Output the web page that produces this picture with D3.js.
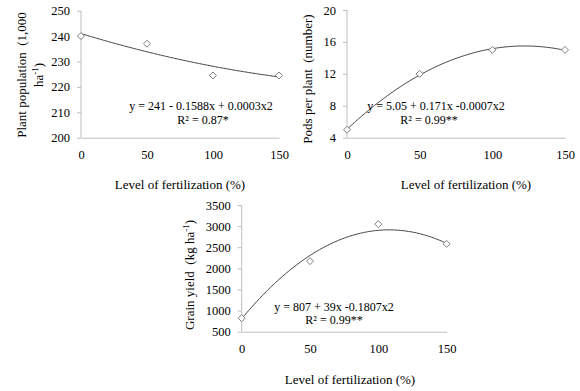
<!DOCTYPE html>
<html lang="en">
<head>
	<meta charset="utf-8">
	<title>Fertilization panels</title>
	<script src="https://d3js.org/d3.v7.min.js"></script>
	<style>
		body { margin: 0; background: #fff; }
		.axis path, .axis line { stroke: #bfbfbf; }
	</style>
</head>
<body>
<div id="chart"></div>
<script>
	// Data
	var levels = [0, 50, 100, 150];
	var xTicks = [0, 50, 100, 150];

	var populationValues = [240, 237, 224.5, 224.5];
	var populationTicks = [200, 210, 220, 230, 240, 250];
	var populationCoef = [241, -0.1588, 0.0003];

	var podsValues = [5, 12, 15, 15];
	var podsTicks = [4, 8, 12, 16, 20];
	var podsCoef = [5.05, 0.171, -0.0007];

	var yieldValues = [820, 2170, 3045, 2580];
	var yieldTicks = [500, 1000, 1500, 2000, 2500, 3000, 3500];
	var yieldCoef = [807, 39, -0.1807];

	var w = 580, h = 391;
	var serif = "'Liberation Serif'";

	var svg = d3.select("#chart")
		.append("svg")
		.attr("width", w)
		.attr("height", h);

	var panels = [
		{
			values: populationValues, ticks: populationTicks, coef: populationCoef,
			x0: 81, x1: 279, yTop: 10.7, yBot: 137.7,
			eq: ["y = 241 - 0.1588x + 0.0003x2", "R² = 0.87*"],
			eqPos: [[201, 110], [203, 123.5]],
			ylabel: [["Plant population\u00a0\u00a0(1,000"], ["ha", "-1", ")"]],
			ylabelX: [26, 43], ylabelY: 75,
			xlabelX: 180, xlabelY: 189
		},
		{
			values: podsValues, ticks: podsTicks, coef: podsCoef,
			x0: 347, x1: 565, yTop: 10, yBot: 137.7,
			eq: ["y = 5.05 + 0.171x -0.0007x2", "R² = 0.99**"],
			eqPos: [[436, 110], [429, 123.5]],
			ylabel: [["Pods per plant\u00a0\u00a0(number)"]],
			ylabelX: [312], ylabelY: 79,
			xlabelX: 466, xlabelY: 189
		},
		{
			values: yieldValues, ticks: yieldTicks, coef: yieldCoef,
			x0: 241.7, x1: 446.6, yTop: 205, yBot: 331.7,
			eq: ["y = 807 + 39x -0.1807x2", "R² = 0.99**"],
			eqPos: [[334, 310.5], [334, 324]],
			ylabel: [["Grain yield\u00a0\u00a0(kg ha", "-1", ")"]],
			ylabelX: [194], ylabelY: 275,
			xlabelX: 350, xlabelY: 384
		}
	];

	panels.forEach(function(p) {
		var x = d3.scaleLinear().domain([0, 150]).range([p.x0, p.x1]);
		var y = d3.scaleLinear()
			.domain([p.ticks[0], p.ticks[p.ticks.length - 1]])
			.range([p.yBot, p.yTop]);

		var g = svg.append("g");

		// y axis
		g.append("g")
			.attr("class", "axis")
			.attr("transform", "translate(" + p.x0 + ",0)")
			.call(d3.axisLeft(y).tickValues(p.ticks).tickFormat(d3.format("d"))
				.tickSize(4).tickPadding(7).tickSizeOuter(0))
			.call(function(a) { a.select(".domain").attr("d", "M0," + p.yTop + "V" + p.yBot); });

		// x axis
		g.append("g")
			.attr("class", "axis")
			.attr("transform", "translate(0," + p.yBot + ")")
			.call(d3.axisBottom(x).tickValues(xTicks).tickFormat(d3.format("d"))
				.tickSize(0).tickPadding(12).tickSizeOuter(0));

		g.selectAll(".axis text")
			.style("font-family", serif)
			.style("font-size", "12.5px")
			.attr("fill", "#000");

		// trend line from the printed equation
		var xs = d3.range(0, 150.5, 1);
		var line = d3.line()
			.x(function(d) { return x(d); })
			.y(function(d) { return y(p.coef[0] + p.coef[1] * d + p.coef[2] * d * d); });
		g.append("path")
			.datum(xs)
			.attr("d", line)
			.attr("fill", "none")
			.attr("stroke", "#404040")
			.attr("stroke-width", 1);

		// diamond markers
		g.selectAll(".pt")
			.data(p.values)
			.enter()
			.append("path")
			.attr("class", "pt")
			.attr("d", "M0,-3.5L3.5,0L0,3.5L-3.5,0Z")
			.attr("transform", function(d, i) { return "translate(" + x(levels[i]) + "," + y(d) + ")"; })
			.attr("fill", "#fff")
			.attr("stroke", "#808080")
			.attr("stroke-width", 1);

		// equation
		p.eq.forEach(function(t, i) {
			g.append("text")
				.attr("x", p.eqPos[i][0])
				.attr("y", p.eqPos[i][1])
				.attr("text-anchor", "middle")
				.style("font-family", serif)
				.style("font-size", "12px")
				.text(t);
		});

		// x axis title
		g.append("text")
			.attr("x", p.xlabelX)
			.attr("y", p.xlabelY)
			.attr("text-anchor", "middle")
			.style("font-family", serif)
			.style("font-size", "13px")
			.text("Level of fertilization (%)");

		// y axis title (rotated, possibly two lines)
		p.ylabel.forEach(function(parts, li) {
			var t = g.append("text")
				.attr("text-anchor", "middle")
				.style("font-family", serif)
				.style("font-size", "13px")
				.attr("transform", "translate(" + p.ylabelX[li] + "," + p.ylabelY + ") rotate(-90)");
			parts.forEach(function(s) {
				var ts = t.append("tspan").text(s);
				if (s === "-1") ts.style("font-size", "9px").attr("dy", -5);
				else if (s === ")") ts.attr("dy", 5);
			});
		});
	});
</script>
</body>
</html>
